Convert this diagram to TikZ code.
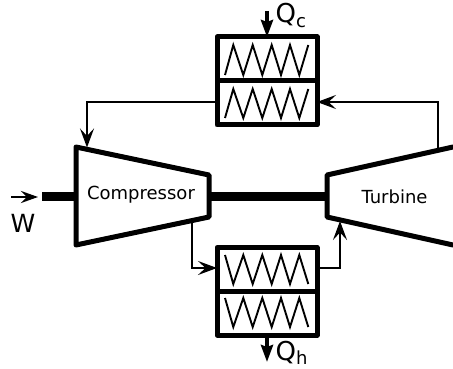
\documentclass[tikz,border=0pt]{standalone}
\usepackage{fontspec}
\setmainfont{DejaVu Sans}
\usetikzlibrary{arrows.meta}
\tikzset{
  heavy/.style={line width=5pt,line join=round,line cap=round},
  shaft/.style={line width=8.5pt},
  flow/.style={line width=1.9pt,-{Stealth[length=19pt,width=14pt,inset=7.5pt]}},
  heat/.style={line width=3.6pt,-{Stealth[length=17pt,width=12pt,inset=2pt]}},
  work/.style={line width=2.6pt,-{Stealth[length=17pt,width=12pt,inset=6pt]}},
  zig/.style={line width=1.9pt,line join=miter},
  cell/.style={draw,heavy,minimum width=100pt,minimum height=44pt,inner sep=0pt,outer sep=0pt,fill=white},
  lbl/.style={inner sep=0pt,font=\fontsize{18}{20}\selectfont},
  big/.style={inner sep=0pt,font=\fontsize{26}{28}\selectfont,anchor=base west}
}
\newcommand{\subtxt}[1]{\raisebox{-4.5pt}{\fontsize{18}{20}\selectfont #1}}
\begin{document}
\begin{tikzpicture}[x=1pt,y=-1pt]
\useasboundingbox (0,0) rectangle (453,369);
% coordinates on machines
\coordinate (ctl) at (76,147); \coordinate (ctr) at (209,175);
\coordinate (cbr) at (209,217); \coordinate (cbl) at (76,245);
\coordinate (ttl) at (327,175); \coordinate (ttr) at (453,147);
\coordinate (tbl) at (327,217); \coordinate (tbr) at (453,245);
\coordinate (shaftin) at (42,196.5); \coordinate (shaftc) at (76,196.5);
\coordinate (shaftl) at (209,196.5); \coordinate (shaftr) at (327,196.5);
\coordinate (compIn) at (87,147.5); \coordinate (compOut) at (192,219);
\coordinate (turbIn) at (340,221); \coordinate (turbOut) at (438,149);
% heat exchangers
\node[cell] (c1) at (267,59) {};
\node[cell] (c2) at (267,103) {};
\node[cell] (h1) at (267,269.5) {};
\node[cell] (h2) at (267,313) {};
% shafts
\draw[shaft] (shaftin) -- (shaftc);
\draw[shaft] (shaftl) -- (shaftr);
% machines
\draw[heavy] (ctl) -- (ctr) -- (cbr) -- (cbl) -- cycle;
\draw[heavy] (ttr) -- (ttl) -- (tbl) -- (tbr);
\node[lbl] (comp) at (141,195) {Compressor};
\node[lbl] (turb) at (394.5,197) {Turbine};
% zigzags
\foreach \t/\b in {75/45,118/89}{
  \draw[zig] (225,\t) -- (233.3,\b) -- (243.3,\t) -- (252.7,\b) -- (262.3,\t) -- (271.7,\b) -- (281,\t) -- (290,\b) -- (299.3,\t) -- (308.3,\b);
}
\foreach \t/\b in {255/284,298/327}{
  \draw[zig] (225,\t) -- (233.3,\b) -- (243.3,\t) -- (252.7,\b) -- (262.3,\t) -- (271.7,\b) -- (281,\t) -- (290,\b) -- (299.3,\t) -- (308.3,\b);
}
% flows
\draw[flow] (turbOut) |- (c2.east |- 0,102);
\draw[flow] (c2.west |- 0,102) -| (compIn);
\draw[flow] (compOut) |- (h1.west |- 0,268);
\draw[flow] (h1.east |- 0,268) -| (turbIn);
% heat and work
\coordinate (qcs) at (267,11); \coordinate (qhe) at (267,362); \coordinate (ws) at (11,197); \coordinate (we) at (38,197);
\draw[heat] (qcs) -- (c1.north);
\draw[heat] (h2.south) -- (qhe);
\draw[work] (ws) -- (we);
\node[big] (qc) at (275.5,23) {Q\subtxt{c}};
\node[big] (qh) at (275.5,360) {Q\subtxt{h}};
\node[big,font=\fontsize{25}{27}\selectfont] (w) at (10.5,232) {W};
\end{tikzpicture}
\end{document}
